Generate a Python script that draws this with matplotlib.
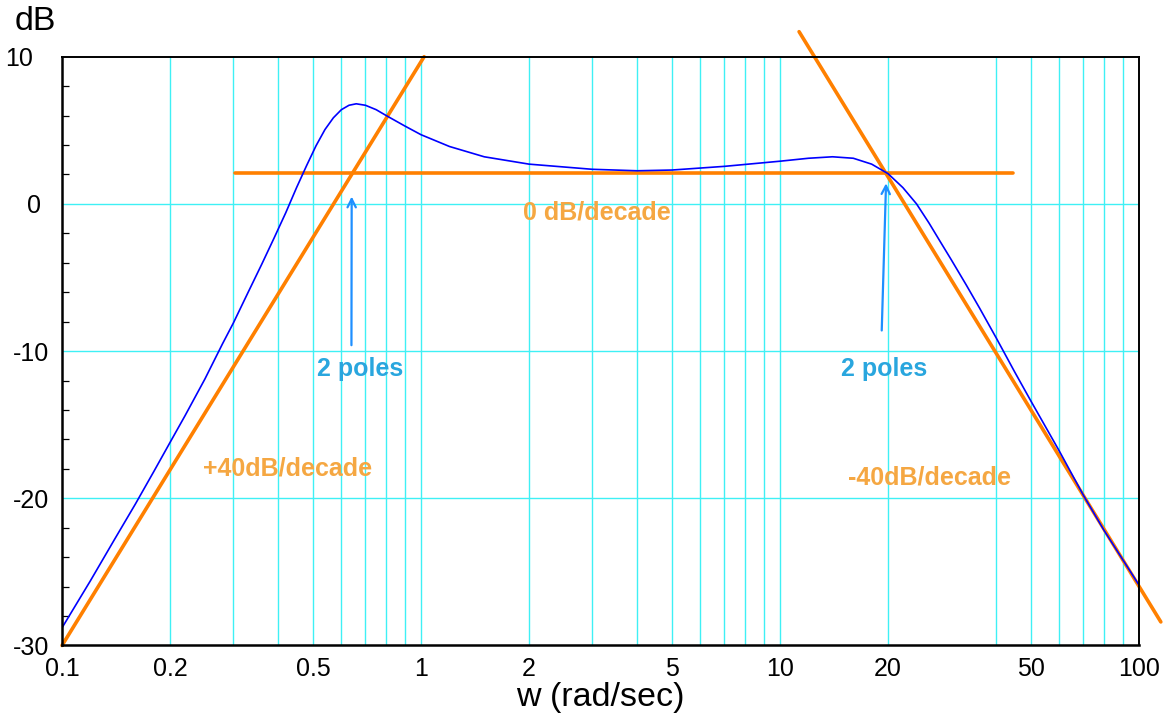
import matplotlib.pyplot as plt
import matplotlib.transforms as mtransforms
from matplotlib.ticker import FixedLocator, NullFormatter

# ============================================================
# Data
# ============================================================

# blue: magnitude response, w (rad/sec) vs dB
w_resp = [0.1, 0.12, 0.14, 0.16, 0.18, 0.2, 0.22, 0.25, 0.28, 0.3,
          0.33, 0.36, 0.39, 0.42, 0.45, 0.48, 0.51, 0.54, 0.57, 0.6,
          0.63, 0.66, 0.7, 0.75, 0.8, 0.9, 1.0, 1.2, 1.5, 2.0,
          3.0, 4.0, 5.0, 7.0, 10.0, 12.0, 14.0, 16.0, 18.0, 20.0,
          22.0, 24.0, 26.0, 28.0, 30.0, 33.0, 36.0, 40.0, 45.0, 50.0,
          60.0, 70.0, 80.0, 100.0]
db_resp = [-28.8, -25.6, -22.8, -20.4, -18.2, -16.2, -14.4, -11.9, -9.5, -8.1,
           -6.0, -4.1, -2.3, -0.6, 1.1, 2.6, 3.95, 5.05, 5.85, 6.4,
           6.7, 6.8, 6.7, 6.4, 6.0, 5.3, 4.7, 3.9, 3.2, 2.7,
           2.35, 2.25, 2.3, 2.55, 2.9, 3.1, 3.2, 3.1, 2.7, 2.05,
           1.1, 0.0, -1.3, -2.6, -3.8, -5.5, -7.1, -9.1, -11.4, -13.4,
           -16.8, -19.8, -22.2, -25.9]

# orange asymptotes
w_up = [0.1, 1.02]
db_up = [-30.0, 10.0]
w_flat = [0.303, 44.6]
db_flat = [2.1, 2.1]
w_down = [11.3, 115.0]
db_down = [11.7, -28.4]

x_ticks = [0.1, 0.2, 0.5, 1, 2, 5, 10, 20, 50, 100]
x_tick_labels = ["0.1", "0.2", "0.5", "1", "2", "5", "10", "20", "50", "100"]
x_grid = [0.2, 0.3, 0.4, 0.5, 0.6, 0.7, 0.8, 0.9, 1,
          2, 3, 4, 5, 6, 7, 8, 9, 10,
          20, 40, 50, 60, 70, 80, 90]
y_ticks = [-30, -20, -10, 0, 10]
y_minor = [-28, -26, -24, -22, -18, -16, -14, -12, -8, -6, -4, -2, 2, 4, 6, 8]

# ============================================================
# Style
# ============================================================

plt.rcParams["font.family"] = ["Liberation Sans", "DejaVu Sans"]

ORANGE = "#ff8000"
LABEL_ORANGE = "#f5a742"
BLUE = "#0000ff"
POLE_BLUE = "#29a6de"
ARROW_BLUE = "#1e8fff"
GRID = "#3ff0f5"

fig = plt.figure(figsize=(11.68, 7.25), dpi=100)
ax = fig.add_axes([0.0531, 0.1097, 0.9221, 0.8121])

ax.set_xscale("log")
ax.set_xlim(0.1, 100)
ax.set_ylim(-30, 10)

# grid
for w in x_grid:
    ax.axvline(w, color=GRID, lw=1.0, zorder=1)
for d in [-20, -10, 0]:
    ax.axhline(d, color=GRID, lw=1.0, zorder=1)

# curves
ax.plot(w_up, db_up, color=ORANGE, lw=2.6, solid_capstyle="round",
        clip_on=False, zorder=3)
ax.plot(w_flat, db_flat, color=ORANGE, lw=2.6, solid_capstyle="round",
        zorder=3)
ax.plot(w_down, db_down, color=ORANGE, lw=2.6, solid_capstyle="round",
        clip_on=False, zorder=3)
ax.plot(w_resp, db_resp, color=BLUE, lw=1.2, zorder=4)

# annotations
ax.text(3.08, -0.6, "0 dB/decade", color=LABEL_ORANGE, fontsize=18,
        fontweight="bold", ha="center", va="center")
ax.text(0.426, -18.0, "+40dB/decade", color=LABEL_ORANGE, fontsize=18,
        fontweight="bold", ha="center", va="center")
ax.text(26.0, -18.6, "-40dB/decade", color=LABEL_ORANGE, fontsize=18,
        fontweight="bold", ha="center", va="center")

ax.text(0.675, -11.2, "2 poles", color=POLE_BLUE, fontsize=18,
        fontweight="bold", ha="center", va="center")
ax.text(19.5, -11.2, "2 poles", color=POLE_BLUE, fontsize=18,
        fontweight="bold", ha="center", va="center")

arrow = dict(arrowstyle="->,head_length=0.6,head_width=0.3",
             color=ARROW_BLUE, lw=1.6, shrinkA=0, shrinkB=0)
ax.annotate("", xy=(0.641, 0.5), xytext=(0.640, -9.6), arrowprops=arrow,
            zorder=5)
ax.annotate("", xy=(19.74, 1.4), xytext=(19.2, -8.6), arrowprops=arrow,
            zorder=5)

# ticks
ax.xaxis.set_major_locator(FixedLocator(x_ticks))
ax.set_xticklabels(x_tick_labels)
ax.xaxis.set_minor_formatter(NullFormatter())
ax.xaxis.set_minor_locator(FixedLocator([]))
ax.tick_params(axis="x", which="major", length=0, pad=8, labelsize=18)

ax.set_yticks(y_ticks)
ax.set_yticklabels([str(v) for v in y_ticks])
ax.yaxis.set_minor_locator(FixedLocator(y_minor))
ax.tick_params(axis="y", which="major", length=0, pad=9, labelsize=18)
ax.tick_params(axis="y", which="minor", direction="in", length=5,
               width=0.9, color="black")

# the "10" and "0" labels sit a bit further left in the original
for lab, val in zip(ax.get_yticklabels(), y_ticks):
    shift = {10: -17, 0: -9}.get(val, 0)
    if shift:
        lab.set_transform(lab.get_transform() +
                          mtransforms.ScaledTranslation(shift / 100, 0,
                                                        fig.dpi_scale_trans))

for side in ["left", "bottom"]:
    ax.spines[side].set_linewidth(1.8)
for side in ["top", "right"]:
    ax.spines[side].set_linewidth(1.4)
for s in ax.spines.values():
    s.set_zorder(6)

ax.set_xlabel("w (rad/sec)", fontsize=24.5, labelpad=1)
fig.text(35 / 1168, 1 - 22 / 725, "dB", fontsize=24.5, ha="center",
         va="center")

fig.savefig("out.png", dpi=100)
